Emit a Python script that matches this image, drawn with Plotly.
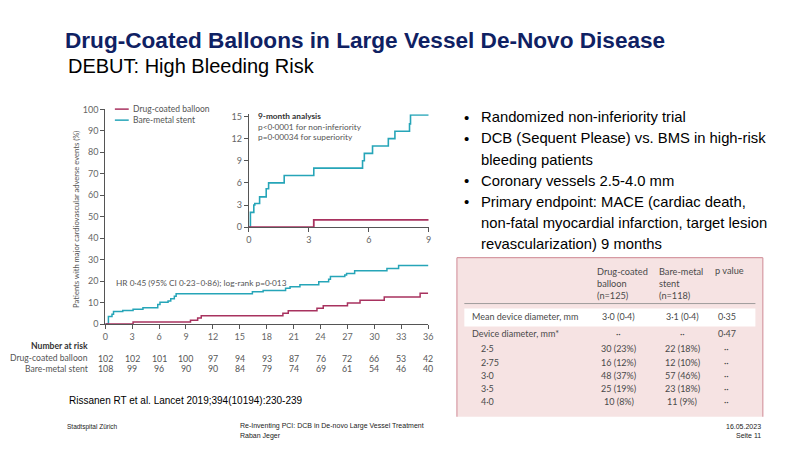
import plotly.graph_objects as go

W, H = 800, 450
def X(px): return px / W
def Y(py): return 1 - py / H

# ---------------- data ----------------
# main Kaplan-Meier (months, % with MACE)
bms_t = [0, 0.35, 0.75, 0.92, 1.95, 3.1, 4.2, 5.7, 5.85, 6.1, 7.0, 7.3, 7.7, 7.9,
         16.4, 17.6, 20.1, 20.6, 21.7, 23.8, 24.9, 25.1, 26.7, 26.9, 27.8, 31.4, 32.7, 36]
bms_v = [0, 3.5, 4.5, 5.8, 6.3, 6.9, 7.6, 7.6, 9.1, 10.2, 10.7, 11.8, 12.9, 14.1,
         15.0, 15.6, 16.7, 17.4, 18.3, 19.7, 20.9, 22.1, 22.9, 23.6, 24.8, 25.9, 27.3, 27.6]
dcb_t = [0, 3.1, 9.5, 10.3, 10.7, 19.8, 20.4, 23.6, 24.3, 27.0, 28.4, 31.1, 35.1, 36]
dcb_v = [0, 0.9, 1.8, 2.8, 3.9, 5.0, 6.2, 7.3, 8.5, 9.8, 11.1, 12.6, 14.4, 14.4]

# inset 9-month analysis
in_bms_t = [0, 0.08, 0.25, 0.3, 0.54, 0.87, 0.99, 1.77, 3.25, 5.69, 5.78, 6.19, 6.98, 7.31, 8.04, 8.09, 9]
in_bms_v = [0, 2.0, 3.0, 3.2, 4.1, 5.2, 6.0, 7.0, 8.0, 9.0, 10.0, 11.0, 12.0, 13.0, 14.0, 15.2, 15.2]
in_dcb_t = [0, 3.25, 9]
in_dcb_v = [0, 1.0, 1.0]

risk_months = [0, 3, 6, 9, 12, 15, 18, 21, 24, 27, 30, 33, 36]
risk_dcb = [102, 102, 101, 100, 97, 94, 93, 87, 76, 72, 66, 53, 42]
risk_bms = [108, 99, 96, 90, 90, 84, 79, 74, 69, 61, 54, 46, 40]

main_xticks = [0, 3, 6, 9, 12, 15, 18, 21, 24, 27, 30, 33, 36]
main_yticks = [0, 10, 20, 30, 40, 50, 60, 70, 80, 90, 100]
inset_xticks = [0, 3, 6, 9]
inset_yticks = [0, 3, 6, 9, 12, 15]

bullets = [
    ["Randomized non-inferiority trial"],
    ["DCB (Sequent Please) vs. BMS in high-risk", "bleeding patients"],
    ["Coronary vessels 2.5-4.0 mm"],
    ["Primary endpoint: MACE (cardiac death,", "non-fatal myocardial infarction, target lesion",
     "revascularization) 9 months"],
]

tbl_header = ["Drug-coated<br>balloon<br>(n=125)", "Bare-metal<br>stent<br>(n=118)", "p value"]
tbl_rows = ["Mean device diameter, mm", "Device diameter, mm*", "2·5", "2·75", "3·0", "3·5", "4·0"]
tbl_dcb = ["3·0 (0·4)", "··", "30 (23%)", "16 (12%)", "48 (37%)", "25 (19%)", "10 (8%)"]
tbl_bms = ["3·1 (0·4)", "··", "22 (18%)", "12 (10%)", "57 (46%)", "23 (18%)", "11 (9%)"]
tbl_p = ["0·35", "0·47", "··", "··", "··", "··", "··"]

# ---------------- style ----------------
C_DCB = "#a8325f"
C_BMS = "#26a5b8"
AX = "#555555"
LF = "Lato"
AF = "Liberation Sans, Arial, sans-serif"

fig = go.Figure()
fig.add_trace(go.Scatter(x=bms_t, y=bms_v, mode="lines", line=dict(color=C_BMS, width=1.5, shape="hv"),
                         xaxis="x", yaxis="y", showlegend=False, hoverinfo="skip"))
fig.add_trace(go.Scatter(x=dcb_t, y=dcb_v, mode="lines", line=dict(color=C_DCB, width=1.5, shape="hv"),
                         xaxis="x", yaxis="y", showlegend=False, hoverinfo="skip"))
fig.add_trace(go.Scatter(x=in_bms_t, y=in_bms_v, mode="lines", line=dict(color=C_BMS, width=1.6, shape="hv"),
                         xaxis="x2", yaxis="y2", showlegend=False, hoverinfo="skip"))
fig.add_trace(go.Scatter(x=in_dcb_t, y=in_dcb_v, mode="lines", line=dict(color=C_DCB, width=1.8, shape="hv"),
                         xaxis="x2", yaxis="y2", showlegend=False, hoverinfo="skip", cliponaxis=False))

axcommon = dict(showgrid=False, zeroline=False, showline=True, linecolor=AX, linewidth=1,
                ticks="outside", ticklen=4, tickcolor=AX, tickwidth=1,
                tickfont=dict(family=LF, size=9, color="#666"), fixedrange=True)

fig.update_layout(
    width=W, height=H, margin=dict(l=0, r=0, t=0, b=0),
    paper_bgcolor="white", plot_bgcolor="rgba(0,0,0,0)",
    xaxis=dict(domain=[X(103.3), X(429.5)], range=[0, 36], tickvals=main_xticks, anchor="y", **axcommon),
    yaxis=dict(domain=[Y(326), Y(106)], range=[0, 100], tickvals=main_yticks, anchor="x", **axcommon),
    xaxis2=dict(domain=[X(248.3), X(430)], range=[0, 9], tickvals=inset_xticks, anchor="y2", **axcommon),
    yaxis2=dict(domain=[Y(226.7), Y(111)], range=[0, 15.3], tickvals=inset_yticks, anchor="x2", **axcommon),
)

ann = []
shapes = []

def text(x, y, s, size, color="#000", family=AF, xanchor="left", yanchor="middle", xref="paper", align="left"):
    ann.append(dict(x=x if xref != "paper" else X(x), y=Y(y), xref=xref, yref="paper", text=s,
                    showarrow=False, xanchor=xanchor, yanchor=yanchor, align=align,
                    font=dict(size=size, color=color, family=family)))

# titles
text(61, 35.5, "<b>Drug-Coated Balloons in Large Vessel De-Novo Disease</b>", 22.6, "#0f2163")
text(64, 61, "DEBUT: High Bleeding Risk", 20, "#000")

# legend
for yy, col, lab in [(105.7, C_DCB, "Drug-coated balloon"), (117, C_BMS, "Bare-metal stent")]:
    shapes.append(dict(type="line", xref="paper", yref="paper", x0=X(113), x1=X(127), y0=Y(yy), y1=Y(yy),
                       line=dict(color=col, width=1.5)))
    text(129, yy, lab, 8.5, AX, LF)

# y-axis title
ann.append(dict(x=X(73), y=Y(219), xref="paper", yref="paper", textangle=-90, showarrow=False,
                xanchor="center", yanchor="middle",
                text="Patients with major cardiovascular adverse events (%)",
                font=dict(size=7.6, color=AX, family=LF)))

# inset texts
text(255.5, 113, "<b>9-month analysis</b>", 8.3, "#333", LF)
text(255.5, 124, "p<0·0001 for non-inferiority", 8.3, AX, LF)
text(255.5, 134.5, "p=0·00034 for superiority", 8.3, AX, LF)

# HR text
text(112.5, 283.5, "HR 0·45 (95% CI 0·23–0·86); log-rank p=0·013", 8.3, AX, LF)

# number at risk
text(88, 349, "<b>Number at risk</b>", 8.6, "#333", LF, xanchor="right")
text(88, 361, "Drug-coated balloon", 8.6, AX, LF, xanchor="right")
text(88, 372, "Bare-metal stent", 8.6, AX, LF, xanchor="right")
for m, a, b in zip(risk_months, risk_dcb, risk_bms):
    text(m, 361, str(a), 8.8, AX, LF, xanchor="center", xref="x")
    text(m, 372, str(b), 8.8, AX, LF, xanchor="center", xref="x")

# source
text(65, 404, "Rissanen RT et al. Lancet 2019;394(10194):230-239", 10, "#000")

# footer
text(63, 432, "Stadtspital Zürich", 6.5, "#222")
text(237, 431, "Re-Inventing PCI: DCB in De-novo Large Vessel Treatment", 7, "#222")
text(237, 440.5, "Raban Jeger", 7, "#222")
text(768, 431, "16.05.2023", 7, "#222", xanchor="right")
text(768, 440.5, "Seite 11", 7, "#222", xanchor="right")

# bullets
yy = 114
for item in bullets:
    text(464, yy, "•", 15, "#000")
    for line in item:
        text(481, yy, line, 14.8, "#000")
        yy += 21.7

# table
shapes.append(dict(type="rect", xref="paper", yref="paper", x0=X(458.5), x1=X(767.5), y0=Y(421), y1=Y(258),
                   fillcolor="#f6e3e3", line=dict(width=0), layer="below"))
for x0, y0, x1, y1 in [(458.5, 258, 767.5, 258), (458.5, 258, 458.5, 421), (767.5, 258, 767.5, 421)]:
    shapes.append(dict(type="line", xref="paper", yref="paper", x0=X(x0), x1=X(x1), y0=Y(y0), y1=Y(y1),
                       line=dict(color="#d69aa3", width=1.2)))
shapes.append(dict(type="line", xref="paper", yref="paper", x0=X(466), x1=X(760), y0=Y(305), y1=Y(305),
                   line=dict(color="#8a8a8a", width=0.8)))
shapes.append(dict(type="rect", xref="paper", yref="paper", x0=X(466), x1=X(760), y0=Y(328.5), y1=Y(310),
                   fillcolor="white", line=dict(width=0), layer="below"))
TC = "#4a4a4a"
text(598, 284, tbl_header[0], 9.2, TC, LF)
text(661, 284, tbl_header[1], 9.2, TC, LF)
text(717, 271, tbl_header[2], 9.2, TC, LF)
row_y = [318.5, 335.5, 351.5, 365, 378.5, 392, 405.5]
for i, (lab, a, b, p) in enumerate(zip(tbl_rows, tbl_dcb, tbl_bms, tbl_p)):
    lx = 472 if i < 2 else 481
    text(lx, row_y[i], lab, 9, TC, LF)
    text(622, row_y[i], a, 9, TC, LF, xanchor="center")
    text(686, row_y[i], b, 9, TC, LF, xanchor="center")
    text(731, row_y[i], p, 9, TC, LF, xanchor="center")

fig.update_layout(annotations=ann, shapes=shapes)
fig.write_html("out.html", config={"displayModeBar": False, "staticPlot": True},
               post_script="document.body.style.margin='0';document.body.style.overflow='hidden';")
